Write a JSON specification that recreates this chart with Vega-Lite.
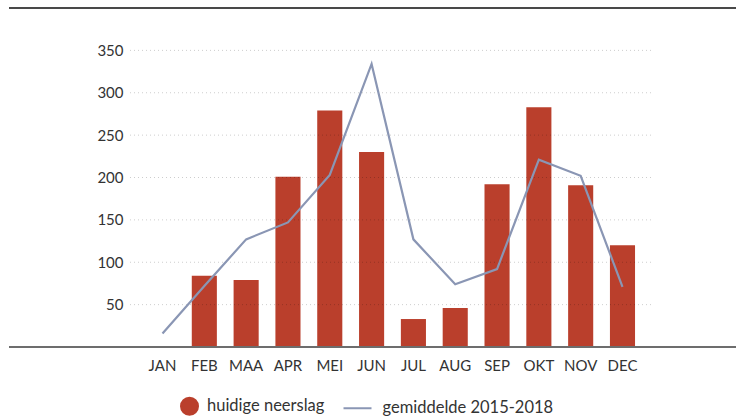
{
  "$schema": "https://vega.github.io/schema/vega-lite/v6.json",
  "width": 727,
  "height": 339,
  "autosize": {"type": "none"},
  "padding": {"left": 9, "top": 8, "right": 7, "bottom": 71},
  "background": "white",
  "config": {"view": {"stroke": null}, "font": "Lato"},
  "data": {
    "values": [
      {"maand": "JAN", "neerslag": 1, "gemiddelde": 16},
      {"maand": "FEB", "neerslag": 84, "gemiddelde": 72},
      {"maand": "MAA", "neerslag": 79, "gemiddelde": 127},
      {"maand": "APR", "neerslag": 201, "gemiddelde": 147},
      {"maand": "MEI", "neerslag": 279, "gemiddelde": 203},
      {"maand": "JUN", "neerslag": 230, "gemiddelde": 334},
      {"maand": "JUL", "neerslag": 33, "gemiddelde": 127},
      {"maand": "AUG", "neerslag": 46, "gemiddelde": 74},
      {"maand": "SEP", "neerslag": 192, "gemiddelde": 92},
      {"maand": "OKT", "neerslag": 283, "gemiddelde": 221},
      {"maand": "NOV", "neerslag": 191, "gemiddelde": 202},
      {"maand": "DEC", "neerslag": 120, "gemiddelde": 71}
    ]
  },
  "layer": [
    {
      "mark": {"type": "bar", "color": "#BA3F2C"},
      "encoding": {
        "x": {
          "field": "maand", "type": "nominal", "sort": null,
          "scale": {
            "domain": ["JAN","FEB","MAA","APR","MEI","JUN","JUL","AUG","SEP","OKT","NOV","DEC"],
            "range": [132.6, 634.4],
            "paddingInner": 0.4, "paddingOuter": 0.2
          },
          "axis": {
            "title": null, "domain": false, "ticks": false, "labelAngle": 0,
            "labelPadding": 11, "labelFontSize": 15, "labelColor": "#333333", "labelFont": "Lato"
          }
        },
        "y": {
          "field": "neerslag", "type": "quantitative",
          "scale": {"domain": [0, 400]},
          "axis": {
            "title": null, "domain": false, "ticks": false, "grid": false,
            "values": [50, 100, 150, 200, 250, 300, 350],
            "offset": -121, "labelPadding": 7, "labelFontSize": 15,
            "labelColor": "#333333", "labelFont": "Lato"
          }
        },
        "color": {
          "datum": "huidige neerslag", "type": "nominal",
          "scale": {
            "domain": ["huidige neerslag", "gemiddelde 2015-2018"],
            "range": ["#BA3F2C", "#8A96B4"]
          },
          "legend": {
            "title": null, "orient": "none", "direction": "horizontal",
            "legendX": 165.5, "legendY": 383, "padding": 0,
            "labelFontSize": 16.5, "labelColor": "#333333", "labelFont": "Lato",
            "labelLimit": 400,
            "columnPadding": 15, "labelOffset": 10,
            "encode": {
              "symbols": {
                "update": {
                  "shape": {"signal": "datum.value === 'huidige neerslag' ? 'circle' : 'stroke'"},
                  "size": {"signal": "datum.value === 'huidige neerslag' ? 289 : 784"},
                  "fill": {"signal": "datum.value === 'huidige neerslag' ? '#BA3F2C' : 'transparent'"},
                  "stroke": {"signal": "datum.value === 'huidige neerslag' ? 'transparent' : '#8A96B4'"},
                  "strokeWidth": {"value": 2},
                  "opacity": {"value": 1}
                }
              },
              "labels": {
                "update": {
                  "dx": {"signal": "datum.value === 'huidige neerslag' ? -7.5 : 0"}
                }
              }
            }
          }
        }
      }
    },
    {
      "data": {"values": [{"v": 50}, {"v": 100}, {"v": 150}, {"v": 200}, {"v": 250}, {"v": 300}, {"v": 350}]},
      "mark": {"type": "rule", "stroke": "#000000", "strokeOpacity": 0.2, "strokeDash": [1, 3], "strokeWidth": 1},
      "encoding": {
        "y": {"field": "v", "type": "quantitative"},
        "x": {"datum": "JAN", "type": "nominal", "bandPosition": -0.795},
        "x2": {"datum": "DEC", "bandPosition": 1.675}
      }
    },
    {
      "mark": {"type": "rule", "stroke": "#6e6e6e", "strokeWidth": 1.5},
      "encoding": {"y": {"datum": 0, "type": "quantitative"}}
    },
    {
      "mark": {"type": "rule", "stroke": "#4a4a4a", "strokeWidth": 1.5},
      "encoding": {"y": {"datum": 400, "type": "quantitative"}}
    },
    {
      "mark": {"type": "line", "strokeWidth": 2.2, "color": "#8A96B4"},
      "encoding": {
        "x": {"field": "maand", "type": "nominal", "sort": null},
        "y": {"field": "gemiddelde", "type": "quantitative"},
        "color": {"datum": "gemiddelde 2015-2018", "type": "nominal"}
      }
    }
  ]
}
